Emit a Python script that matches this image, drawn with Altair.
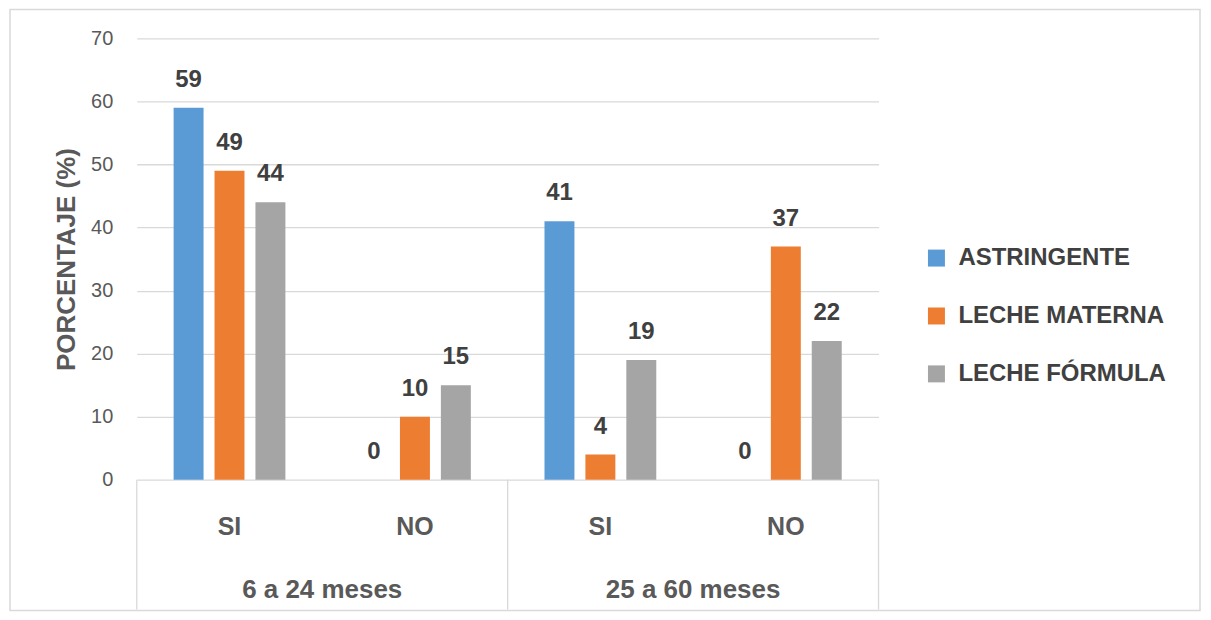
import altair as alt
import pandas as pd

# ---- data ----
groups = ["6 a 24 meses", "6 a 24 meses", "25 a 60 meses", "25 a 60 meses"]
answers = ["SI", "NO", "SI", "NO"]
series = ["ASTRINGENTE", "LECHE MATERNA", "LECHE FÓRMULA"]
astringente = [59, 0, 41, 0]
leche_materna = [49, 10, 4, 37]
leche_formula = [44, 15, 19, 22]
y_ticks = [0, 10, 20, 30, 40, 50, 60, 70]
colors = ["#5B9BD5", "#ED7D31", "#A5A5A5"]
group_names = ["6 a 24 meses", "25 a 60 meses"]
group_bounds = [0, 2, 4]      # category-index boundaries between the groups
group_centers = [1, 3]        # category-index centres of the groups

FONT = "Liberation Sans, Arial, sans-serif"

keys = [f"{g}|{a}" for g, a in zip(groups, answers)]
rows = []
for name, vals in zip(series, [astringente, leche_materna, leche_formula]):
    for k, v in zip(keys, vals):
        rows.append({"key": k, "serie": name, "value": v})
df = pd.DataFrame(rows)

df_cat = pd.DataFrame({"key": keys, "label": answers})
df_grp = pd.DataFrame({"pos": group_centers, "label": group_names})
df_sep = pd.DataFrame({"pos": group_bounds})
df_frame = pd.DataFrame({"a": [0]})

H = 442
W = 743

xscale = alt.Scale(domain=keys, paddingInner=0, paddingOuter=0)
xoff = alt.XOffset("serie:N", sort=series,
                   scale=alt.Scale(domain=series, paddingInner=0.268, paddingOuter=0.9))

base = alt.Chart(df)

bars = base.mark_bar().encode(
    x=alt.X("key:N", sort=keys, scale=xscale, axis=None),
    xOffset=xoff,
    y=alt.Y("value:Q", scale=alt.Scale(domain=[0, 70], nice=False),
            axis=alt.Axis(values=y_ticks, title="PORCENTAJE (%)", grid=True,
                          gridColor="#D9D9D9", gridWidth=1.3, domain=False, ticks=False,
                          labelFont=FONT, labelFontSize=20, labelColor="#595959",
                          labelPadding=24,
                          titleFont=FONT, titleFontSize=26, titleFontWeight="bold",
                          titleColor="#595959", titleX=-62, titleY=H / 2,
                          titleAngle=270, titleAlign="center",
                          titleBaseline="alphabetic")),
    color=alt.Color("serie:N", sort=series,
                    scale=alt.Scale(domain=series, range=colors),
                    legend=alt.Legend(title=None, orient="none", legendX=789, legendY=208,
                                      symbolType="square", symbolSize=289,
                                      symbolStrokeWidth=0, labelFontSize=24,
                                      labelFont=FONT, labelFontWeight="bold",
                                      labelColor="#404040", rowPadding=34,
                                      labelOffset=10, padding=0, labelLimit=400)),
)

value_labels = base.mark_text(dy=-21, baseline="alphabetic", fontSize=24,
                              fontWeight="bold", color="#404040", font=FONT).encode(
    x=alt.X("key:N", sort=keys),
    xOffset=xoff,
    y=alt.Y("value:Q"),
    text=alt.Text("value:Q"),
)

cat_labels = alt.Chart(df_cat).mark_text(baseline="alphabetic", fontSize=25,
                                         fontWeight="bold", color="#595959",
                                         font=FONT).encode(
    x=alt.X("key:N", sort=keys),
    y=alt.value(H + 55),
    text="label:N",
)

xq = alt.Scale(domain=[0, 4], nice=False, zero=False)

grp_labels = alt.Chart(df_grp).mark_text(baseline="alphabetic", fontSize=26,
                                         fontWeight="bold", color="#595959",
                                         font=FONT).encode(
    x=alt.X("pos:Q", scale=xq, axis=None),
    y=alt.value(H + 118),
    text="label:N",
)

seps = alt.Chart(df_sep).mark_rule(color="#D9D9D9", strokeWidth=1.3).encode(
    x=alt.X("pos:Q", scale=xq, axis=None),
    y=alt.value(H),
    y2=alt.value(H + 130),
)

frame = alt.Chart(df_frame).mark_rect(fill="white", fillOpacity=0, stroke="#D9D9D9",
                                      strokeWidth=1.5).encode(
    x=alt.value(-127), x2=alt.value(1065), y=alt.value(-29), y2=alt.value(H + 131),
)

main = alt.layer(bars, value_labels, cat_labels)
deco = alt.layer(frame, seps, grp_labels)

chart = alt.layer(deco, main).resolve_scale(x="independent").properties(
    width=W, height=H,
    padding={"left": 129, "top": 30, "right": 325, "bottom": 132},
    autosize=alt.AutoSizeParams(type="none"),
).configure_view(stroke=None)

chart.save("out.html", embed_options={"renderer": "svg", "actions": False})
